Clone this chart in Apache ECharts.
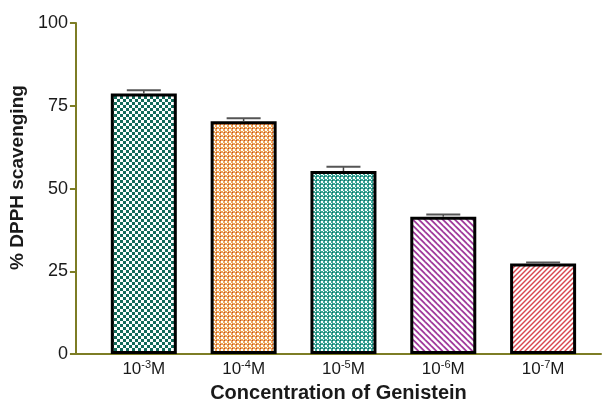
<!DOCTYPE html>
<html><head><meta charset="utf-8">
<script src="https://cdn.jsdelivr.net/npm/echarts@6/dist/echarts.min.js"></script>
<style>html,body{margin:0;padding:0;background:#fff}#c{width:610px;height:408px}</style>
</head><body><div id="c"></div>
<script>
// ---- data ----
const categoryExponents = ['-3', '-4', '-5', '-6', '-7'];
const categoryUnit = 'M';
const scavenging = [78.7, 70.3, 55.3, 41.5, 27.4];
const errors = [1.0, 0.9, 1.3, 0.7, 0.3];
const yTicks = [0, 25, 50, 75, 100];
const yTitle = '% DPPH scavenging';
const xTitle = 'Concentration of Genistein';

// ---- patterns ----
function pat(size, draw) {
  const c = document.createElement('canvas');
  c.width = size; c.height = size;
  const g = c.getContext('2d');
  g.fillStyle = '#fff'; g.fillRect(0, 0, size, size);
  draw(g);
  return { image: c, repeat: 'repeat' };
}
function lattice(line, dot) {
  return pat(4, g => {
    g.fillStyle = line; g.fillRect(0, 0, 4, 4);
    g.fillStyle = '#fff';
    g.fillRect(1, 1, 2, 2); g.fillRect(3, 3, 1, 1);
    g.fillStyle = dot; g.fillRect(0, 0, 1, 1);
  });
}
const patterns = [
  pat(6, g => { g.fillStyle = '#136a5a'; g.fillRect(0,0,3,3); g.fillRect(3,3,3,3); }),
  lattice('#eca458', '#c0452a'),
  lattice('#3aa597', '#10695f'),
  pat(6, g => { g.fillStyle = '#a0399c'; for (let i=-1;i<2;i++){ g.beginPath(); g.moveTo(i*6,0); g.lineTo(i*6+6,6); g.lineTo(i*6+8.6,6); g.lineTo(i*6+2.6,0); g.fill(); } }),
  pat(5, g => { g.fillStyle = '#d8474f'; for (let i=-1;i<2;i++){ g.beginPath(); g.moveTo(i*5+5,0); g.lineTo(i*5,5); g.lineTo(i*5+2,5); g.lineTo(i*5+7,0); g.fill(); } })
];

const axisColor = '#7d7d25';
const textColor = '#1a1a1a';
const barData = scavenging.map((v, i) => ({ value: [i, v], itemStyle: { color: patterns[i] } }));
const errData = scavenging.map((v, i) => [i, v, v + errors[i]]);

const chart = echarts.init(document.getElementById('c'), null, { renderer: 'canvas' });
chart.setOption({
  animation: false,
  backgroundColor: '#fff',
  grid: { left: 75, right: 9, top: 23, bottom: 48, containLabel: false },
  xAxis: {
    type: 'value', min: -0.68, max: 4.58,
    name: xTitle, nameLocation: 'middle', nameGap: 28,
    nameTextStyle: { fontFamily: 'Liberation Sans', fontWeight: 'bold', fontSize: 20, color: textColor },
    axisLine: { show: true, onZero: false, lineStyle: { color: axisColor, width: 2 } },
    axisTick: { show: false },
    splitLine: { show: false },
    axisLabel: {
      customValues: [0, 1, 2, 3, 4],
      margin: 5,
      formatter: v => '{b|10}{s|' + categoryExponents[Math.round(v)] + '}{b|' + categoryUnit + '}',
      rich: {
        b: { fontFamily: 'Liberation Sans', fontSize: 17, color: textColor, verticalAlign: 'bottom' },
        s: { fontFamily: 'Liberation Sans', fontSize: 11, color: textColor, verticalAlign: 'top', padding: [0, 0, 8, 0] }
      }
    }
  },
  yAxis: {
    type: 'value', min: yTicks[0], max: yTicks[yTicks.length - 1], interval: 25,
    name: yTitle, nameLocation: 'middle', nameGap: 42, nameRotate: 90,
    nameTextStyle: { fontFamily: 'Liberation Sans', fontWeight: 'bold', fontSize: 19, color: textColor, padding: [0, 0, 0, 22] },
    axisLine: { show: true, onZero: false, lineStyle: { color: axisColor, width: 2 } },
    axisTick: { show: true, length: 6, lineStyle: { color: axisColor, width: 2 } },
    splitLine: { show: false },
    axisLabel: { fontFamily: 'Liberation Sans', fontSize: 18, color: textColor, margin: 8 }
  },
  series: [
    {
      type: 'bar', data: barData, barWidth: 66, z: 2,
      itemStyle: { borderColor: '#000', borderWidth: 3 }
    },
    {
      type: 'custom', z: 3, data: errData,
      renderItem: (params, api) => {
        const base = api.coord([api.value(0), api.value(1)]);
        const top = api.coord([api.value(0), api.value(2)]);
        const hw = 17;
        return {
          type: 'group',
          children: [
            { type: 'line', shape: { x1: base[0], y1: base[1], x2: top[0], y2: top[1] }, style: { stroke: '#444', lineWidth: 1.5 } },
            { type: 'line', shape: { x1: top[0] - hw, y1: top[1], x2: top[0] + hw, y2: top[1] }, style: { stroke: '#555', lineWidth: 2 } }
          ]
        };
      }
    }
  ]
});
</script></body></html>
